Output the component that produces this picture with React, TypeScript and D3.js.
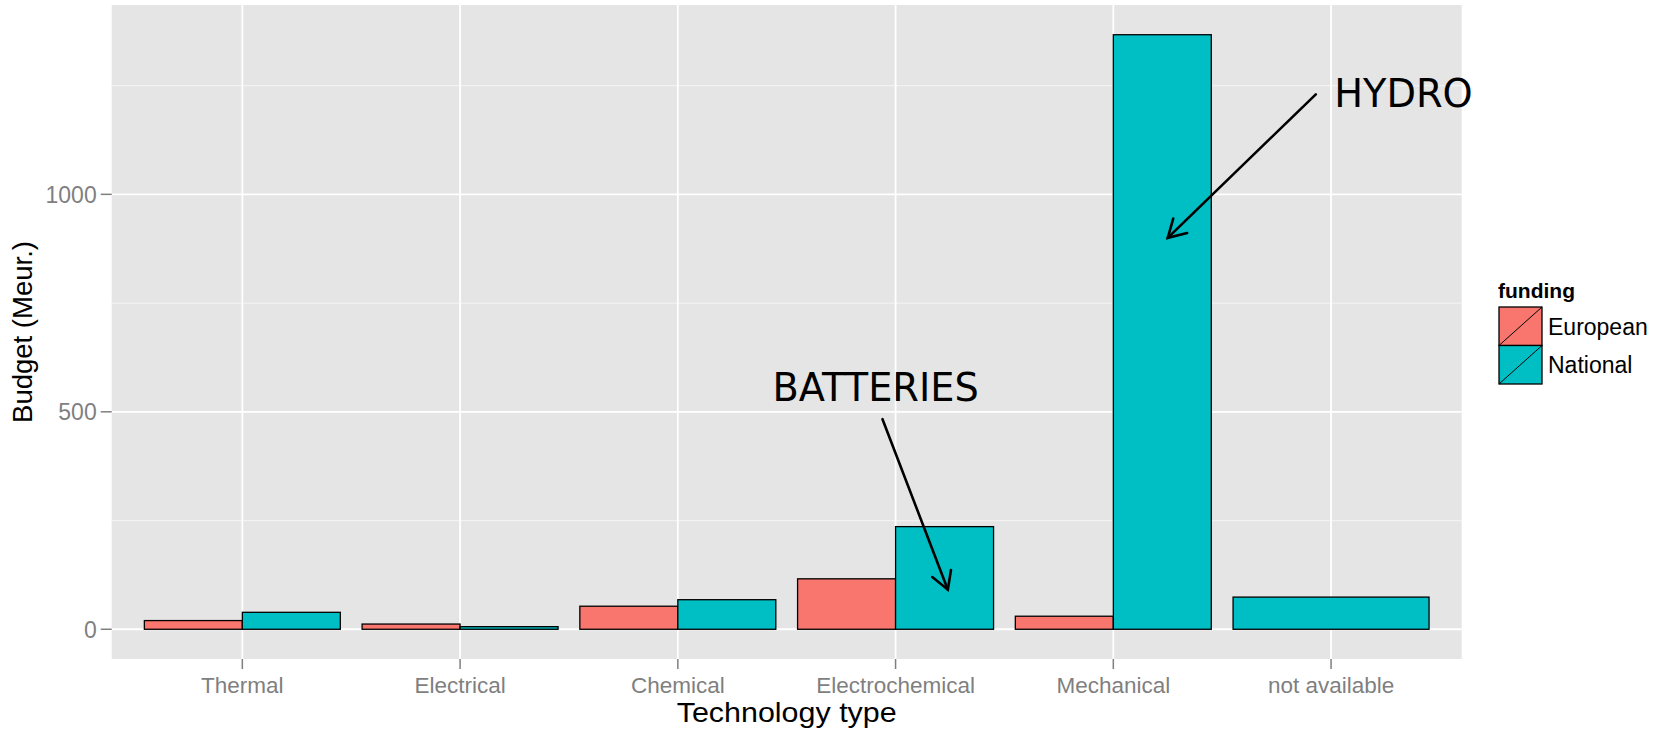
import React from "react";
import * as d3 from "d3";

const categories = ["Thermal", "Electrical", "Chemical", "Electrochemical", "Mechanical", "not available"];
const fundingTypes = ["European", "National"];
const europeanValues: (number | null)[] = [20, 12, 53, 116, 30, null];
const nationalValues: (number | null)[] = [39, 6, 68, 236, 1367, 74];
const fundingColors = ["#F8766D", "#00BFC4"];
const yMajorTicks = [0, 500, 1000];
const yMinorTicks = [250, 750, 1250];

// annotations in data coordinates (x: continuous category position, 1-based)
const annotationTexts = [
  { label: "HYDRO", x: 6.015, y: 1200 },
  { label: "BATTERIES", x: 3.435, y: 524 },
];
const annotationArrows = [
  { x1: 5.93, y1: 1230, x2: 5.25, y2: 900 },
  { x1: 3.94, y1: 483, x2: 4.24, y2: 91 },
];

const W = 1664;
const H = 729;
const panel = { left: 111.7, right: 1461.7, top: 5, bottom: 659 };
const sans = "'Liberation Sans', Arial, sans-serif";

export default function App() {
  const n = categories.length;
  const x = d3.scaleLinear().domain([0.4, n + 0.6]).range([panel.left, panel.right]);
  const maxV = d3.max(nationalValues.concat(europeanValues).map((v) => v ?? 0)) as number;
  const pad = maxV * 0.05;
  const y = d3.scaleLinear().domain([-pad, maxV + pad]).range([panel.bottom, panel.top]);

  const bars: { x0: number; x1: number; v: number; color: string; key: string }[] = [];
  categories.forEach((c, i) => {
    const center = i + 1;
    const series = [europeanValues[i], nationalValues[i]];
    const present = series.map((v, k) => ({ v, k })).filter((d) => d.v !== null);
    const total = 0.9;
    const w = total / present.length;
    present.forEach((d, j) => {
      const start = center - total / 2 + j * w;
      bars.push({ x0: start, x1: start + w, v: d.v as number, color: fundingColors[d.k], key: c + d.k });
    });
  });

  const arrowHead = (a: { x1: number; y1: number; x2: number; y2: number }) => {
    const px1 = x(a.x1), py1 = y(a.y1), px2 = x(a.x2), py2 = y(a.y2);
    const ang = Math.atan2(py2 - py1, px2 - px1);
    const len = 20;
    const spread = (30 * Math.PI) / 180;
    const b1 = [px2 - len * Math.cos(ang - spread), py2 - len * Math.sin(ang - spread)];
    const b2 = [px2 - len * Math.cos(ang + spread), py2 - len * Math.sin(ang + spread)];
    return { px1, py1, px2, py2, b1, b2 };
  };

  const legendX = 1499;
  const keyW = 43;
  const keyH = 38.5;
  const legendTop = 307;

  return (
    <div style={{ position: "absolute", left: 0, top: 0 }}>
      <svg width={W} height={H} style={{ display: "block", background: "#fff" }}>
        <rect x={panel.left} y={panel.top} width={panel.right - panel.left} height={panel.bottom - panel.top} fill="#E5E5E5" />
        {yMinorTicks.map((t) => (
          <line key={"mn" + t} x1={panel.left} x2={panel.right} y1={y(t)} y2={y(t)} stroke="#F2F2F2" strokeWidth={1.2} />
        ))}
        {yMajorTicks.map((t) => (
          <line key={"mj" + t} x1={panel.left} x2={panel.right} y1={y(t)} y2={y(t)} stroke="#FFFFFF" strokeWidth={1.8} />
        ))}
        {categories.map((c, i) => (
          <line key={"vx" + c} x1={x(i + 1)} x2={x(i + 1)} y1={panel.top} y2={panel.bottom} stroke="#FFFFFF" strokeWidth={1.8} />
        ))}
        {bars.map((b) => (
          <rect
            key={b.key}
            x={x(b.x0)}
            y={y(b.v)}
            width={x(b.x1) - x(b.x0)}
            height={y(0) - y(b.v)}
            fill={b.color}
            stroke="#000"
            strokeWidth={1.3}
          />
        ))}
        {/* y axis */}
        {yMajorTicks.map((t) => (
          <g key={"yt" + t}>
            <line x1={panel.left - 11} x2={panel.left} y1={y(t)} y2={y(t)} stroke="#7F7F7F" strokeWidth={1.5} />
            <text x={panel.left - 15} y={y(t)} dy="0.36em" textAnchor="end" fontFamily={sans} fontSize={23} fill="#7F7F7F">
              {t}
            </text>
          </g>
        ))}
        {/* x axis */}
        {categories.map((c, i) => (
          <g key={"xt" + c}>
            <line x1={x(i + 1)} x2={x(i + 1)} y1={panel.bottom} y2={panel.bottom + 10} stroke="#7F7F7F" strokeWidth={1.5} />
            <text x={x(i + 1)} y={692.5} textAnchor="middle" fontFamily={sans} fontSize={22.5} fill="#7F7F7F">
              {c}
            </text>
          </g>
        ))}
        <text
          x={(panel.left + panel.right) / 2}
          y={722}
          textAnchor="middle"
          fontFamily={sans}
          fontSize={28}
          textLength={220}
          lengthAdjust="spacingAndGlyphs"
          fill="#000"
        >
          Technology type
        </text>
        <text
          transform={`translate(32, ${(panel.top + panel.bottom) / 2}) rotate(-90)`}
          textAnchor="middle"
          fontFamily={sans}
          fontSize={27.5}
          fill="#000"
        >
          Budget (Meur.)
        </text>
        {/* legend */}
        <text x={1498} y={298} fontFamily={sans} fontSize={21} fontWeight="bold" fill="#000">
          funding
        </text>
        {fundingTypes.map((f, k) => {
          const ky = legendTop + k * keyH;
          return (
            <g key={"lg" + f}>
              <rect x={legendX} y={ky} width={keyW} height={keyH} fill={fundingColors[k]} stroke="#000" strokeWidth={1.3} />
              <line x1={legendX} y1={ky + keyH} x2={legendX + keyW} y2={ky} stroke="#000" strokeWidth={1} />
              <text x={1548} y={ky + keyH / 2} dy="0.36em" fontFamily={sans} fontSize={23} fill="#000">
                {f}
              </text>
            </g>
          );
        })}
        {/* annotations */}
        {annotationArrows.map((a, i) => {
          const h = arrowHead(a);
          return (
            <g key={"ar" + i} stroke="#000" strokeWidth={2.6} fill="none" strokeLinecap="round">
              <line x1={h.px1} y1={h.py1} x2={h.px2} y2={h.py2} />
              <polyline points={`${h.b1[0]},${h.b1[1]} ${h.px2},${h.py2} ${h.b2[0]},${h.b2[1]}`} />
            </g>
          );
        })}
        {annotationTexts.map((t) => (
          <text key={t.label} x={x(t.x)} y={y(t.y)} fontFamily="'DejaVu Sans', Verdana, sans-serif" fontSize={38.3} fill="#000">
            {t.label}
          </text>
        ))}
      </svg>
    </div>
  );
}
